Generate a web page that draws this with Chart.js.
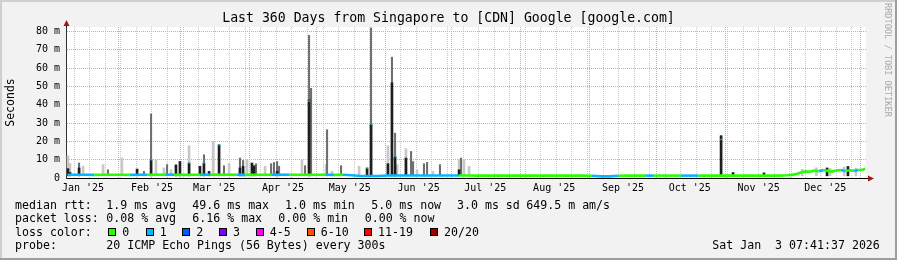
<!DOCTYPE html>
<html>
<head>
<meta charset="utf-8">
<script src="https://cdn.jsdelivr.net/npm/chart.js"></script>
<style>
  html, body { margin: 0; padding: 0; background: #f2f2f2; }
  #wrap { position: relative; width: 897px; height: 260px; overflow: hidden; }
  #c { position: absolute; left: 0; top: 0; }
  .t { position: absolute; font-family: "DejaVu Sans Mono", monospace; font-size: 11.6px; line-height: 14px; white-space: pre; color: #000; }
  .box { position: absolute; width: 6px; height: 6px; border: 1px solid #000; }
  #mark { position: absolute; left: 883px; top: 3px; writing-mode: vertical-rl; font-family: "DejaVu Sans Mono", monospace; font-size: 8.6px; line-height: 10px; color: #aaa; }
</style>
</head>
<body>
<div id="wrap">
  <canvas id="c" width="897" height="260"></canvas>
  <div id="mark">RRDTOOL / TOBI OETIKER</div>
</div>
<script>
// x values are days since 1 Jan 2025 00:00
const xMin = 7.32, xMax = 367.32;
const monthStarts = [31, 59, 90, 120, 151, 181, 212, 243, 273, 304, 334, 365];
const monthLabels = ["Jan '25", "Feb '25", "Mar '25", "Apr '25", "May '25", "Jun '25",
  "Jul '25", "Aug '25", "Sep '25", "Oct '25", "Nov '25", "Dec '25"];
const monthLabelDays = [15, 46, 74, 105, 135, 166, 196, 227, 258, 288, 319, 349];

const lossLabels = ['0', '1', '2', '3', '4-5', '6-10', '11-19', '20/20'];
const lossColors = ['#26ff00', '#00b8ff', '#0059ff', '#7e00ff', '#ff00ff', '#ff5500', '#ff0000', '#a10000'];

// median rtt (ms)
const medianDay = [8, 12, 16, 20, 24, 28, 32, 36, 40, 44, 48, 52, 56, 60, 64, 68, 72, 76, 80, 84,
  88, 92, 96, 100, 104, 108, 112, 116, 120, 124, 128, 132, 136, 140, 144, 148, 152, 156, 160, 164,
  168, 172, 176, 180, 184, 188, 192, 196, 200, 204, 208, 212, 216, 220, 224, 228, 232, 236, 240, 244,
  248, 252, 256, 260, 264, 268, 272, 276, 280, 284, 288, 292, 296, 300, 304, 308, 312, 316, 320, 324,
  328, 332, 334, 336, 338, 340, 342, 344, 346, 348, 350, 352, 354, 356, 358, 360, 362, 364, 366, 367];
const medianMs = [1.8, 1.8, 1.8, 1.7, 1.8, 1.8, 1.8, 1.7, 1.8, 1.8, 1.8, 1.8, 1.8, 1.7, 1.8, 1.8, 1.8, 1.8, 1.8, 1.8,
  1.7, 1.8, 1.8, 1.8, 1.8, 1.8, 1.8, 1.8, 1.8, 1.8, 1.7, 1.8, 1.5, 1.1, 1.1, 1.1, 1.4, 1.4, 1.4, 1.4,
  1.4, 1.4, 1.4, 1.4, 1.4, 1.4, 1.3, 1.3, 1.3, 1.3, 1.3, 1.3, 1.3, 1.3, 1.3, 1.3, 1.3, 1.3, 1.3, 1.2,
  0.9, 0.9, 1.2, 1.3, 1.3, 1.3, 1.3, 1.3, 1.3, 1.3, 1.3, 1.3, 1.3, 1.3, 1.3, 1.3, 1.3, 1.3, 1.3, 1.3,
  1.3, 1.5, 1.7, 2.2, 3.0, 3.6, 3.4, 4.0, 3.7, 4.3, 3.9, 3.5, 4.1, 4.4, 3.8, 4.2, 3.9, 4.4, 4.6, 5.0];
const medianLoss = [1, 1, 1, 0, 0, 0, 0, 1, 1, 0, 0, 1, 0, 0, 0, 1, 0, 0, 0, 1,
  0, 0, 0, 1, 1, 0, 0, 0, 0, 1, 0, 1, 1, 1, 1, 1, 1, 1, 1, 1,
  1, 1, 1, 1, 0, 0, 0, 0, 0, 0, 0, 0, 0, 0, 0, 0, 0, 0, 0, 1,
  1, 1, 0, 0, 0, 1, 0, 0, 0, 1, 1, 0, 0, 0, 0, 0, 0, 0, 0, 0,
  0, 0, 0, 0, 0, 0, 0, 0, 1, 0, 0, 0, 0, 1, 0, 0, 1, 0, 0, 0];

// smoke: [day, top ms]
const smokeLight = [[8.2, 12.2], [9.1, 8], [15.0, 6.4], [24.0, 7.3], [32.5, 10.9], [47.8, 10], [51.4, 5.5],
  [54.6, 4.5], [62.7, 17.6], [73.5, 20], [80.7, 8], [88.8, 10], [96.9, 6.4], [113.5, 9.6], [124.3, 7.3],
  [127.0, 3.6], [139.2, 6.4], [152.2, 17.6], [156.3, 7.3], [160.3, 16], [165.3, 4.5], [172.5, 3.6],
  [184.2, 10], [186.4, 10], [188.7, 6.4], [338.6, 4.8], [345.0, 5.6], [351.2, 5.2], [357.5, 6.0], [362.8, 5.4]];
const smokeMid = [[13.2, 8.2], [26.2, 4.5], [42.4, 3.6], [45.6, 35], [52.8, 7.3], [56.8, 7.3], [69.4, 12.7],
  [78.4, 6.7], [85.6, 10.9], [87.0, 9.6], [92.8, 7.8], [99.6, 7.8], [100.9, 8.5], [102.3, 9], [103.2, 6.4],
  [114.9, 6.7], [116.7, 78], [117.6, 49], [124.8, 26.4], [131.1, 6.7], [144.6, 82], [154.0, 66], [155.4, 24.5],
  [162.6, 14.5], [163.5, 9], [168.4, 7.8], [169.8, 8.5], [175.6, 7.3], [185.1, 10.9], [302.1, 23.2]];
const smokeDark = [[8.2, 5.1], [9.1, 3], [13.2, 5.5], [39.3, 4.9], [45.6, 10], [56.8, 7], [58.6, 9], [62.7, 8.2],
  [67.6, 6.4], [69.4, 8.2], [71.7, 3.6], [76.2, 18.2], [85.6, 5.5], [87.0, 6.4], [91.0, 8.2], [91.9, 6.7],
  [102.3, 3.6], [116.7, 42.7], [142.8, 5.5], [144.6, 29.5], [152.2, 7.8], [154.0, 52], [155.4, 11.8],
  [160.3, 10.9], [184.2, 4.5], [302.1, 23], [307.5, 3], [321.4, 2.8], [349.8, 5.5], [359.2, 6.3]];
// median inside spikes: [day, ms, loss]
const spikeMedian = [[45.6, 10, 1], [62.7, 8.2, 1], [69.4, 8.2, 1], [76.2, 18.2, 1], [116.7, 42, 1],
  [142.8, 5.5, 0], [144.6, 29.5, 1], [155.4, 11.7, 1], [302.1, 21, 1]];
const smokeBase = 1.2;

// legend rows: [left px, text]
const legendRows = [
  { top: 197.5, items: [[15, 'median rtt:'], [106.3, '1.9 ms avg'], [192.3, '49.6 ms max'], [285, '1.0 ms min'], [371.3, '5.0 ms now'], [457, '3.0 ms sd'], [526.3, '649.5 m am/s']] },
  { top: 211, items: [[15, 'packet loss:'], [106.3, '0.08 % avg'], [192.3, '6.16 % max'], [278.3, '0.00 % min'], [364.7, '0.00 % now']] },
  { top: 224.5, items: [[15, 'loss color:']] },
  { top: 238, items: [[15, 'probe:'], [106.3, '20 ICMP Echo Pings (56 Bytes) every 300s'], [712.3, 'Sat Jan  3 07:41:37 2026']] }
];
const lossBoxX = [108.3, 145.7, 182.3, 219, 255.7, 306.7, 364, 430];

const wrap = document.getElementById('wrap');
legendRows.forEach(row => {
  row.items.forEach(([x, s]) => {
    const d = document.createElement('div');
    d.className = 't';
    d.style.left = x + 'px';
    d.style.top = row.top + 'px';
    d.textContent = s;
    wrap.appendChild(d);
  });
});
lossLabels.forEach((lab, i) => {
  const b = document.createElement('div');
  b.className = 'box';
  b.style.left = lossBoxX[i] + 'px';
  b.style.top = '227.7px';
  b.style.background = lossColors[i];
  wrap.appendChild(b);
  const d = document.createElement('div');
  d.className = 't';
  d.style.left = (lossBoxX[i] + 14) + 'px';
  d.style.top = '224.5px';
  d.textContent = lab;
  wrap.appendChild(d);
});

// x grid: sundays (minor), month starts (major), label positions
const sundays = [];
for (let d = 11; d <= xMax; d += 7) sundays.push(d);
const xTickVals = [...new Set([...sundays, ...monthStarts, ...monthLabelDays])].sort((a, b) => a - b);
const labelAt = {};
monthLabelDays.forEach((d, i) => labelAt[d] = monthLabels[i]);

const GRID = '#c8c8c8';
const MGRID = '#f29a9a';

const frame = {
  id: 'frame',
  beforeDraw(chart) {
    const { ctx, chartArea: a } = chart;
    ctx.save();
    ctx.fillStyle = '#f2f2f2';
    ctx.fillRect(0, 0, chart.width, chart.height);
    ctx.fillStyle = '#ffffff';
    ctx.fillRect(a.left, a.top, a.right - a.left, a.bottom - a.top);
    ctx.restore();
  },
  afterDraw(chart) {
    const { ctx, chartArea: a } = chart;
    ctx.save();
    ctx.strokeStyle = '#000';
    ctx.lineWidth = 1;
    ctx.beginPath();
    ctx.moveTo(a.left + 0.5, a.top);
    ctx.lineTo(a.left + 0.5, a.top - 3);
    ctx.moveTo(a.right, a.bottom + 0.5);
    ctx.lineTo(a.right + 3, a.bottom + 0.5);
    ctx.stroke();
    ctx.fillStyle = '#a01818';
    ctx.beginPath();
    ctx.moveTo(a.left + 0.5, a.top - 7);
    ctx.lineTo(a.left - 2.5, a.top - 1);
    ctx.lineTo(a.left + 3.5, a.top - 1);
    ctx.fill();
    ctx.beginPath();
    ctx.moveTo(a.right + 8, a.bottom + 0.5);
    ctx.lineTo(a.right + 2, a.bottom - 2.5);
    ctx.lineTo(a.right + 2, a.bottom + 3.5);
    ctx.fill();
    // shaded border
    ctx.fillStyle = '#cfcfcf';
    ctx.fillRect(0, 0, chart.width, 2);
    ctx.fillRect(0, 0, 2, chart.height);
    ctx.fillStyle = '#9e9e9e';
    ctx.fillRect(0, chart.height - 2, chart.width, 2);
    ctx.fillRect(chart.width - 2, 0, 2, chart.height);
    ctx.restore();
  }
};

const bars = (list, color, thick, order) => ({
  type: 'bar',
  data: list.map(([d, top]) => ({ x: d, y: [smokeBase, top] })),
  backgroundColor: color,
  barThickness: thick,
  grouped: false,
  order: order
});

const mono = 'DejaVu Sans Mono';

new Chart('c', {
  type: 'line',
  data: {
    datasets: [
      {
        label: 'median',
        data: medianDay.map((d, i) => ({ x: d, y: medianMs[i] })),
        borderWidth: 2.6,
        pointRadius: 0,
        tension: 0,
        borderCapStyle: 'butt',
        segment: { borderColor: ctx => lossColors[medianLoss[ctx.p0DataIndex]] },
        order: 0
      },
      {
        label: 'spike median',
        data: spikeMedian.map(([d, v]) => ({ x: d, y: v })),
        showLine: false,
        pointStyle: 'rect',
        pointRadius: 1.1,
        pointBorderWidth: 0,
        pointBackgroundColor: spikeMedian.map(s => lossColors[s[2]]),
        order: 0
      },
      bars(smokeDark, '#1e1e1e', 2, 1),
      bars(smokeMid, '#6e6e6e', 1.4, 2),
      bars(smokeLight, '#c8c8c8', 2, 3)
    ]
  },
  options: {
    responsive: false,
    animation: false,
    events: [],
    layout: { padding: 0 },
    plugins: {
      legend: { display: false },
      tooltip: { enabled: false },
      title: {
        display: true,
        text: 'Last 360 Days from Singapore to [CDN] Google [google.com]',
        color: '#000',
        font: { family: mono, size: 13.2, weight: 'normal' },
        padding: { top: 10.5, bottom: 0.66 }
      }
    },
    scales: {
      x: {
        type: 'linear',
        min: xMin,
        max: xMax,
        offset: false,
        afterFit: s => { s.height = 82; },
        afterBuildTicks: s => { s.ticks = xTickVals.map(v => ({ value: v })); },
        grid: {
          offset: false,
          drawTicks: false,
          color: ctx => {
            const v = ctx.tick && ctx.tick.value;
            if (monthStarts.includes(v)) return MGRID;
            if (sundays.includes(v)) return GRID;
            return 'rgba(0,0,0,0)';
          }
        },
        border: { color: '#000', width: 1, dash: [1, 1] },
        ticks: {
          autoSkip: false,
          maxRotation: 0,
          minRotation: 0,
          padding: 4,
          color: '#000',
          font: { family: mono, size: 10 },
          callback: v => labelAt[v] || ''
        }
      },
      y: {
        min: 0,
        max: 82.5,
        afterFit: s => { s.width = 66; },
        afterBuildTicks: s => {
          const t = [];
          for (let v = 0; v <= 80; v += 5) t.push({ value: v });
          s.ticks = t;
        },
        grid: {
          drawTicks: false,
          color: ctx => {
            const v = ctx.tick && ctx.tick.value;
            if (v === 0) return 'rgba(0,0,0,0)';
            return v % 10 === 0 ? MGRID : GRID;
          }
        },
        border: { color: '#333', width: 1, dash: [1, 1] },
        ticks: {
          padding: 6,
          color: '#000',
          font: { family: mono, size: 10 },
          callback: v => v % 10 !== 0 ? '' : (v === 0 ? '0' : v + ' m')
        },
        title: {
          display: true,
          text: 'Seconds',
          color: '#000',
          font: { family: mono, size: 11.5 },
          padding: { top: 4, bottom: 0 }
        }
      },
      yRight: {
        position: 'right',
        afterFit: s => { s.width = 31; },
        grid: { display: false },
        border: { display: false },
        ticks: { display: false }
      }
    }
  },
  plugins: [frame]
});
</script>
</body>
</html>
